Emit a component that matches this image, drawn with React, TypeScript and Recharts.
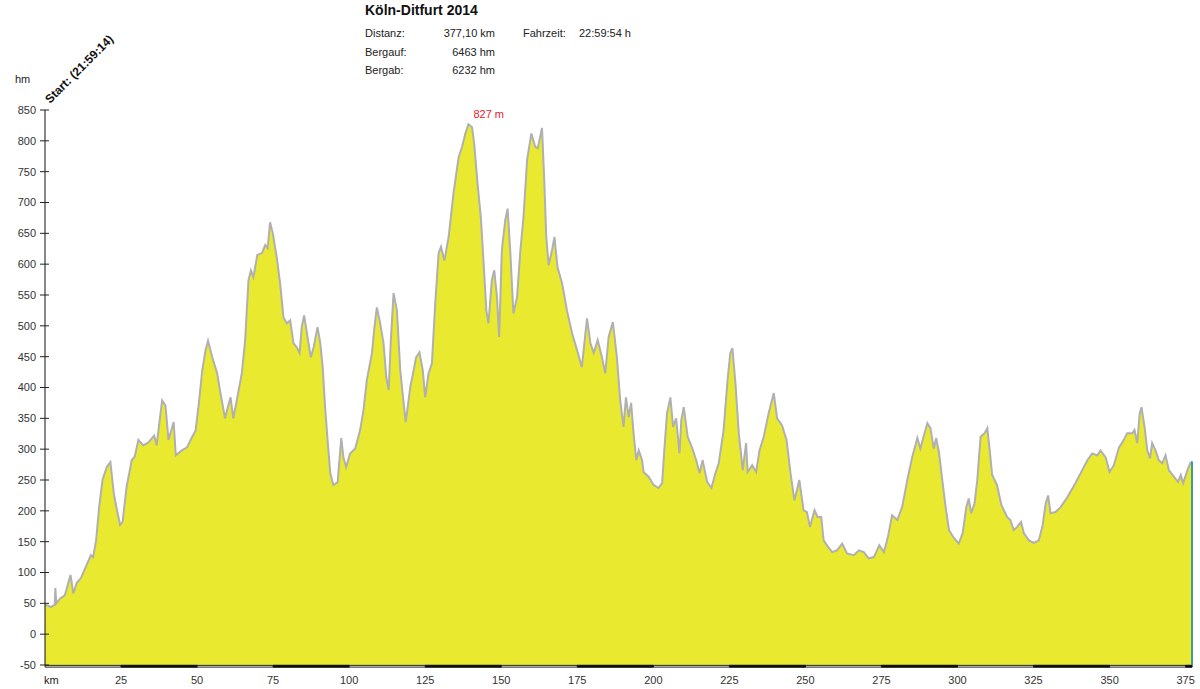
import React from "react";
import { AreaChart, Area, XAxis, YAxis, ReferenceArea, ReferenceLine, ReferenceDot } from "recharts";

// distance along the route (km)
const distanceKm = [
  0, 1, 2, 3.2, 3.4, 3.7, 5, 6.5, 8.4, 9.3,
  10.4, 11.8, 13.4, 15.1, 15.8, 16.8, 17.8, 18.9, 20.3, 21.5,
  22.6, 23.5, 24.7, 25.5, 26.8, 28.5, 29.5, 30.7, 32.3, 34,
  35.9, 36.7, 38.5, 39.6, 40.6, 42.3, 43, 45, 46.7, 48.4,
  49.5, 50.6, 51.7, 52.8, 53.6, 55, 56.6, 57.7, 59.2, 60.2,
  61, 61.9, 63, 64.7, 65.8, 66.9, 67.7, 68.5, 69.8, 71.3,
  72.4, 73.2, 74, 74.9, 76.2, 77.3, 78.4, 79.5, 80.6, 81.7,
  82.8, 83.7, 84.4, 85.2, 86.3, 87.4, 88.3, 89.6, 90.5, 91.3,
  92.1, 92.9, 93.8, 94.8, 96.2, 97.4, 98.1, 99, 100.3, 102,
  103.6, 104.7, 105.8, 107.5, 108.2, 109.1, 110.2, 111.3, 112.2, 113,
  113.7, 114.6, 115.7, 116.8, 117.9, 118.6, 120.1, 121.2, 122, 123.1,
  124.2, 125, 126.1, 127.2, 128.3, 129.4, 130.2, 131.3, 132.7, 134.3,
  136, 137.1, 138.2, 139.2, 140.4, 141.1, 142.2, 143.3, 144.2, 145.1,
  145.8, 146.9, 147.7, 148.6, 149.3, 150.2, 151.3, 152.1, 153, 154,
  155.2, 156.3, 157.3, 158.5, 159.9, 161.2, 162, 163.4, 164.1, 164.8,
  165.6, 166.7, 167.5, 168.5, 170, 171.6, 173.3, 174.9, 176.5, 178.2,
  179.3, 180.4, 181.7, 183.1, 184.2, 185.3, 186.7, 188, 189.1, 190.2,
  191, 191.9, 192.7, 193.5, 194.4, 195.2, 196.3, 196.8, 198.5, 200.1,
  201.7, 202.9, 203.6, 204.5, 205.6, 206.5, 207.5, 208.6, 209.2, 210,
  211.3, 212.7, 214.1, 215.2, 216.2, 217.7, 219.1, 220.4, 221.5, 223.1,
  224.4, 225.3, 226, 227, 228.1, 229.4, 230.5, 231, 232.5, 233.8,
  234.9, 236.3, 237.9, 239.6, 240.7, 242.3, 243.8, 245.1, 246.4, 248,
  249.4, 250.5, 251.5, 253, 254, 255.2, 256, 257.1, 258.8, 260.4,
  262.1, 263.7, 265.9, 267.6, 269.2, 270.8, 272.5, 274.3, 275.8, 277.1,
  278.5, 280.2, 281.8, 283.5, 285.1, 286.8, 287.8, 289, 290.1, 291.1,
  292.2, 293, 293.9, 295, 296.1, 297.2, 298.8, 300.4, 301.7, 302.9,
  303.7, 304.5, 305.6, 306.5, 307.6, 308.9, 309.8, 310.6, 311.4, 313,
  314.4, 316.3, 317.4, 318.5, 319.6, 320.9, 321.8, 323.5, 325.1, 326.7,
  327.9, 329, 329.8, 330.6, 332.2, 333.9, 336.1, 338.8, 341, 342.7,
  344.3, 346, 347, 348.7, 350, 351.4, 353.1, 354.2, 355.8, 357.5,
  358.2, 359.1, 359.9, 360.5, 361.5, 362.4, 363.3, 364, 365.1, 366.2,
  367.3, 368.4, 369.5, 371.2, 372.5, 373.4, 374.2, 375.6, 376.5, 377.1,
];

// elevation (m)
const elevationM = [
  48, 46, 44, 48, 75, 50, 58, 63, 96, 66,
  83, 91, 109, 128, 125, 152, 206, 250, 271, 279,
  229, 205, 177, 182, 238, 282, 288, 315, 306, 311,
  322, 306, 379, 371, 315, 344, 290, 298, 303, 320,
  330, 375, 428, 461, 476, 449, 423, 391, 350, 370,
  384, 350, 378, 423, 477, 574, 590, 579, 615, 618,
  631, 626, 668, 650, 611, 569, 514, 504, 509, 472,
  465, 456, 498, 517, 482, 449, 465, 498, 472, 433,
  368, 315, 261, 242, 246, 318, 287, 271, 293, 301,
  331, 363, 412, 456, 493, 530, 504, 472, 417, 396,
  477, 553, 525, 428, 375, 344, 401, 428, 449, 457,
  428, 384, 423, 439, 537, 618, 628, 606, 644, 715,
  774, 790, 812, 827, 822, 796, 731, 676, 602, 525,
  504, 574, 590, 547, 482, 623, 671, 690, 618, 520,
  547, 623, 676, 769, 812, 790, 788, 821, 741, 644,
  598, 623, 644, 595, 569, 525, 488, 461, 433, 512,
  472, 456, 477, 449, 423, 482, 506, 450, 380, 336,
  384, 352, 375, 326, 282, 298, 282, 263, 255, 242,
  237, 245, 298, 358, 384, 336, 350, 293, 347, 368,
  320, 303, 282, 261, 282, 247, 237, 261, 277, 331,
  412, 456, 464, 407, 326, 266, 310, 263, 274, 263,
  298, 320, 358, 391, 350, 339, 315, 261, 217, 250,
  201, 198, 174, 201, 190, 190, 152, 144, 133, 136,
  147, 131, 128, 136, 133, 123, 125, 144, 133, 157,
  193, 185, 206, 250, 287, 318, 301, 323, 342, 334,
  301, 318, 295, 250, 206, 169, 156, 147, 164, 206,
  220, 196, 212, 250, 320, 326, 334, 298, 258, 242,
  210, 190, 185, 169, 174, 182, 164, 152, 148, 152,
  174, 212, 225, 196, 198, 206, 222, 245, 266, 282,
  293, 290, 298, 287, 263, 274, 303, 311, 326, 326,
  331, 310, 358, 368, 336, 298, 285, 310, 298, 282,
  277, 290, 266, 255, 247, 258, 245, 266, 277, 280,
];

const xTicks = [25, 50, 75, 100, 125, 150, 175, 200, 225, 250, 275, 300, 325, 350, 375];
const yTicks = [-50, 0, 50, 100, 150, 200, 250, 300, 350, 400, 450, 500, 550, 600, 650, 700, 750, 800, 850];

const title = "Köln-Ditfurt 2014";
const statLabels = ["Distanz:", "Bergauf:", "Bergab:"];
const statValues = ["377,10 km", "6463 hm", "6232 hm"];
const timeLabel = "Fahrzeit:";
const timeValue = "22:59:54 h";
const startLabel = "Start: (21:59:14)";
const totalKm = 377.1;
const peakKm = 139.2;
const peakM = 827;

const data = distanceKm.map((km, i) => ({ km, elev: elevationM[i] }));

const FONT = "'Liberation Sans', Arial, Helvetica, sans-serif";

// alternating scale bar along the x-axis: dark segments between every other tick
const darkSegments: [number, number][] = [];
for (let i = 0; i < xTicks.length; i += 2) {
  const start = xTicks[i];
  const end = i + 1 < xTicks.length ? xTicks[i + 1] : totalKm;
  darkSegments.push([start, end]);
}

const YTick = (props: any) => {
  const { x, y, payload } = props;
  return (
    <g>
      <line x1={x + 4} x2={x + 13} y1={y} y2={y} stroke="#222" strokeWidth={1} />
      <text x={x} y={y} dy="0.36em" textAnchor="end" fontSize={11} fill="#333" fontFamily={FONT}>
        {payload.value}
      </text>
    </g>
  );
};

const PeakLabel = (props: any) => {
  const vb = props.viewBox || {};
  return (
    <text x={(vb.x || 0) + 5} y={(vb.y || 0) - 6} fontSize={11} fill="#e8202a" fontFamily={FONT}>
      {`${peakM} m`}
    </text>
  );
};

export default function App() {
  return (
    <div style={{ position: "absolute", left: 0, top: 0, width: 1200, height: 689, background: "#fff" }}>
      <AreaChart
        width={1200}
        height={689}
        data={data}
        margin={{ top: 110, right: 8, bottom: 0, left: 0 }}
      >
        <XAxis
          dataKey="km"
          type="number"
          domain={[0, totalKm]}
          ticks={xTicks}
          allowDataOverflow
          axisLine={false}
          tickLine={false}
          height={24}
          tickMargin={5}
          tick={{ fontSize: 11, fill: "#333", fontFamily: FONT }}
          interval={0}
        />
        <YAxis
          type="number"
          domain={[-50, 850]}
          ticks={yTicks}
          allowDataOverflow
          width={45}
          tickLine={false}
          tickMargin={3}
          axisLine={{ stroke: "#111", strokeWidth: 1 }}
          tick={<YTick />}
          interval={0}
        />
        <Area
          type="linear"
          dataKey="elev"
          baseValue="dataMin"
          fill="#e9e930"
          fillOpacity={1}
          stroke="#b0b0b0"
          strokeWidth={2}
          isAnimationActive={false}
          dot={false}
          activeDot={false}
        />
        <ReferenceLine
          segment={[{ x: totalKm, y: -50 }, { x: totalKm, y: data[data.length - 1].elev }]}
          stroke="#3a9c9c"
          strokeWidth={2}
          ifOverflow="visible"
        />
        <ReferenceArea
          x1={0}
          x2={totalKm}
          y1={-50.6}
          y2={-53.4}
          fill="#ffffff"
          fillOpacity={1}
          stroke="#222"
          strokeWidth={1}
          ifOverflow="visible"
        />
        {darkSegments.map(([a, b]) => (
          <ReferenceArea
            key={a}
            x1={a}
            x2={b}
            y1={-50.6}
            y2={-53.4}
            fill="#111"
            fillOpacity={1}
            stroke="#111"
            strokeWidth={1}
            ifOverflow="visible"
          />
        ))}
        <ReferenceDot x={peakKm} y={peakM} r={0} ifOverflow="visible" label={<PeakLabel />} />
      </AreaChart>
      <svg
        width={1200}
        height={689}
        style={{ position: "absolute", left: 0, top: 0, pointerEvents: "none" }}
      >
        <text x={365} y={15} fontSize={14} fontWeight="bold" fill="#111" fontFamily={FONT}>
          {title}
        </text>
        {statLabels.map((l, i) => (
          <text key={l} x={365} y={37 + i * 18.5} fontSize={11} fill="#222" fontFamily={FONT}>
            {l}
          </text>
        ))}
        {statValues.map((v, i) => (
          <text key={v} x={495} y={37 + i * 18.5} fontSize={11} fill="#222" textAnchor="end" fontFamily={FONT}>
            {v}
          </text>
        ))}
        <text x={523} y={37} fontSize={11} fill="#222" fontFamily={FONT}>
          {timeLabel}
        </text>
        <text x={579} y={37} fontSize={11} fill="#222" fontFamily={FONT}>
          {timeValue}
        </text>
        <text x={15} y={83} fontSize={11} fill="#222" fontFamily={FONT}>
          hm
        </text>
        <text x={44} y={684} fontSize={11} fill="#222" fontFamily={FONT}>
          km
        </text>
        <text
          x={50}
          y={104}
          fontSize={12}
          fontWeight="bold"
          fill="#111"
          fontFamily={FONT}
          transform="rotate(-45 50 104)"
        >
          {startLabel}
        </text>
      </svg>
    </div>
  );
}
